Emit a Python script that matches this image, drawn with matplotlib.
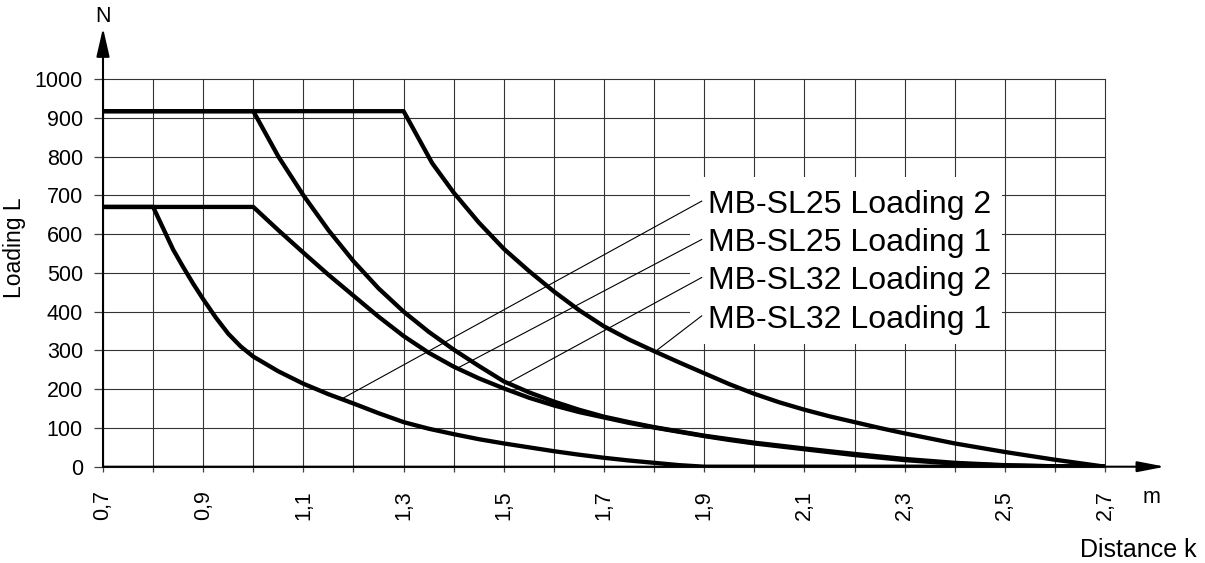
import numpy as np
import matplotlib
matplotlib.use("Agg")
import matplotlib.pyplot as plt
from matplotlib.patches import Rectangle

plt.rcParams["font.family"] = ["Liberation Sans", "DejaVu Sans"]

# curve readings (distance k in m, loading L in N)
a_x = [0.7, 0.8, 0.82, 0.84, 0.86, 0.88, 0.9, 0.925, 0.95, 0.975, 1.0, 1.05, 1.1, 1.15, 1.2, 1.25,
       1.3, 1.35, 1.4, 1.45, 1.5, 1.55, 1.6, 1.65, 1.7, 1.75, 1.8, 1.85, 1.9, 2.7]
a_y = [670, 670, 615, 560, 515, 472, 432, 385, 343, 310, 284, 246, 214, 187, 163, 138,
       115, 98, 84, 71, 60, 50, 40, 31, 23, 16, 10, 4, 0, 0]

b_x = [0.7, 1.0, 1.05, 1.1, 1.15, 1.2, 1.25, 1.3, 1.35, 1.4, 1.45, 1.5, 1.55, 1.6, 1.65, 1.7, 1.75,
       1.8, 1.85, 1.9, 1.95, 2.0, 2.1, 2.2, 2.3, 2.4, 2.5, 2.6, 2.7]
b_y = [670, 670, 610, 552, 495, 441, 387, 337, 294, 258, 228, 202, 178, 158, 141, 127, 113,
       101, 90, 79, 69, 60, 45, 30, 17, 8, 3, 1, 0]

c_x = [0.7, 1.0, 1.05, 1.1, 1.15, 1.2, 1.25, 1.3, 1.35, 1.4, 1.45, 1.5, 1.55, 1.6, 1.65, 1.7, 1.75,
       1.8, 1.85, 1.9, 1.95, 2.0, 2.1, 2.2, 2.3, 2.4, 2.5, 2.6, 2.7]
c_y = [917, 917, 800, 700, 610, 530, 460, 400, 348, 302, 260, 220, 192, 168, 147, 129, 115,
       102, 91, 80, 71, 62, 47, 33, 20, 10, 4, 1, 0]

d_x = [0.7, 1.3, 1.357, 1.4, 1.45, 1.5, 1.55, 1.6, 1.65, 1.7, 1.75, 1.8, 1.85, 1.9, 1.95, 2.0, 2.05,
       2.1, 2.15, 2.2, 2.25, 2.3, 2.35, 2.4, 2.45, 2.5, 2.55, 2.6, 2.65, 2.7]
d_y = [917, 917, 783, 707, 630, 562, 505, 452, 404, 362, 328, 298, 269, 241, 213, 188, 166,
       147, 130, 115, 100, 86, 73, 60, 49, 38, 28, 18, 9, 0]

labels = ["MB-SL25 Loading 2", "MB-SL25 Loading 1", "MB-SL32 Loading 2", "MB-SL32 Loading 1"]
label_y = [655, 556, 458, 359]
pointer_x = [1.176, 1.407, 1.508, 1.802]   # where each leader line touches its curve

x_ticks = np.round(np.arange(0.7, 2.71, 0.1), 1)
y_ticks = np.arange(0, 1001, 100)

fig = plt.figure(figsize=(12.05, 5.63), dpi=100)
ax = fig.add_axes([103 / 1205, 1 - 466.7 / 563, 1002 / 1205, 387.7 / 563])

curves = [(a_x, a_y), (b_x, b_y), (c_x, c_y), (d_x, d_y)]
for cx, cy in curves:
    ax.plot(cx, cy, color="black", lw=3.1, zorder=3, solid_joinstyle="round")

ax.set_xlim(0.7, 2.7)
ax.set_ylim(0, 1000)
ax.set_xticks(x_ticks)
ax.set_xticklabels([f"{v:.1f}".replace(".", ",") if i % 2 == 0 else "" for i, v in enumerate(x_ticks)],
                   rotation=90, fontsize=15.5)
ax.set_yticks(y_ticks)
ax.set_yticklabels([str(v) for v in y_ticks], fontsize=15.5)
ax.tick_params(axis="x", length=3.8, width=0.9, color="0.25", pad=13)
ax.tick_params(axis="y", length=6.5, width=0.9, color="0.25", pad=8)
ax.grid(True, color="0.2", lw=0.8)
for gl in ax.get_xgridlines() + ax.get_ygridlines():
    gl.set_clip_on(False)
for s in ax.spines.values():
    s.set_visible(False)

# axis arrows
ax.annotate("", xy=(0, 1.1315), xytext=(0, 0), xycoords="axes fraction",
            arrowprops=dict(arrowstyle="-|>,head_length=0.87,head_width=0.2", mutation_scale=20,
                            color="black", lw=1.5, shrinkA=0, shrinkB=0), annotation_clip=False)
ax.annotate("", xy=(1.06, 0), xytext=(0, 0), xycoords="axes fraction",
            arrowprops=dict(arrowstyle="-|>,head_length=0.83,head_width=0.16", mutation_scale=20,
                            color="black", lw=1.5, shrinkA=0, shrinkB=0), annotation_clip=False)

# white box behind the labels
ax.add_patch(Rectangle((1.872, 316), 2.495 - 1.872, 747 - 316, facecolor="white",
                       edgecolor="none", zorder=2))

for (cx, cy), lab, ly, px in zip(curves, labels, label_y, pointer_x):
    py = np.interp(px, cx, cy)
    ax.plot([1.895, px], [ly + 30, py], color="black", lw=0.8, zorder=3)
    ax.text(1.908, ly, lab, fontsize=23, va="baseline", ha="left", zorder=4)

fig.text(103 / 1205, 1 - 17 / 563, "N", fontsize=15.5, ha="center", va="center")
fig.text(1152 / 1205, 1 - 503 / 563, "m", fontsize=15.5, ha="center", va="baseline")
fig.text(1197 / 1205, 1 - 556.7 / 563, "Distance k", fontsize=18, ha="right", va="baseline")
fig.text(15 / 1205, 1 - 248 / 563, "Loading L", fontsize=16.5, rotation=90, ha="center", va="center")

fig.savefig("out.png", dpi=100)
